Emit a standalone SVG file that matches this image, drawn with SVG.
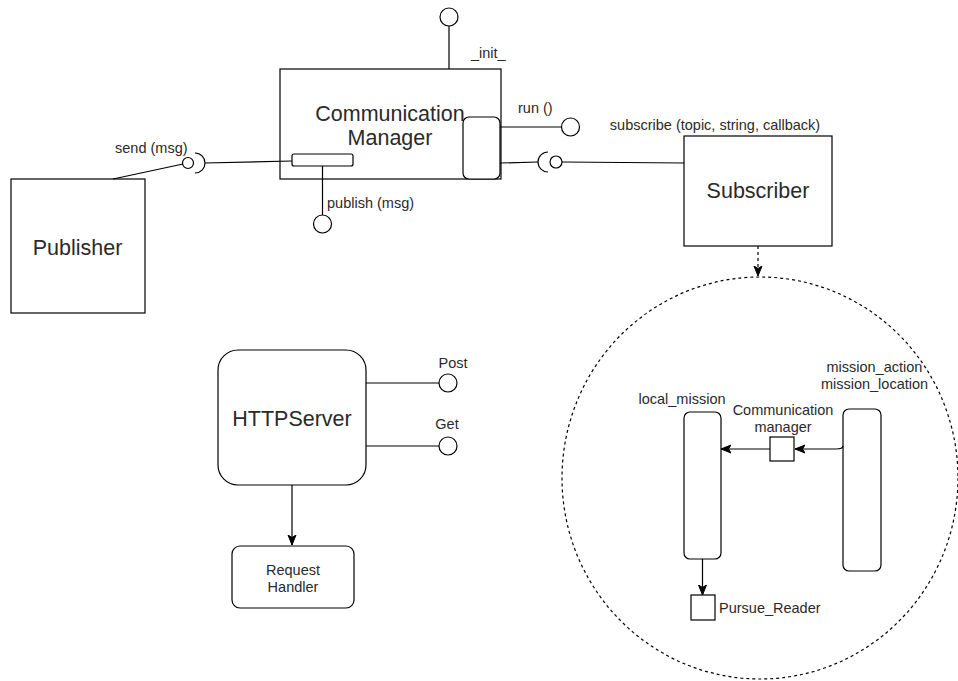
<svg xmlns="http://www.w3.org/2000/svg" width="958" height="681" viewBox="0 0 958 681">
<style>
.s{fill:#fff;stroke:#000;stroke-width:1.2}
.n{fill:none;stroke:#000;stroke-width:1.2}
.d{fill:none;stroke:#000;stroke-width:1.2;stroke-dasharray:3 3}
.t{font-family:"Liberation Sans",Arial,sans-serif;font-size:14.5px;fill:#2a2a2a}
.b{font-family:"Liberation Sans",Arial,sans-serif;font-size:21.5px;fill:#2a2a2a}
.m{text-anchor:middle}
</style>
<defs>
<marker id="ah" viewBox="0 0 10 10" refX="10" refY="5" markerWidth="10" markerHeight="10" markerUnits="userSpaceOnUse" orient="auto">
<path d="M0,1 L10,5 L0,9 L2.5,5 Z" fill="#000" stroke="#000" stroke-width="1"/>
</marker>
</defs>
<rect width="958" height="681" fill="#fff"/>
<g id="init-port">
<circle class="s" cx="449" cy="17" r="9"/>
<text class="t" x="471" y="58">_init_</text>
</g>
<g id="communication-manager">
<rect class="s" x="280" y="69" width="221" height="110"/>
<text class="b m" x="390" y="120.5">Communication</text>
<text class="b m" x="390" y="144.5">Manager</text>
<rect class="s" x="463" y="117" width="37" height="62" rx="6"/>
</g>
<g id="run-port">
<circle class="s" cx="570.5" cy="127" r="9"/>
<text class="t" x="518" y="113">run ()</text>
</g>
<g id="publish-port">
<circle class="s" cx="322.5" cy="224" r="9"/>
<text class="t" x="327" y="208">publish (msg)</text>
</g>
<g id="send-port">
<circle class="s" cx="188" cy="163" r="5.5"/>
<path class="n" d="M195,153 A10,10 0 0 1 195,173"/>
<text class="t" x="115" y="153">send (msg)</text>
</g>
<g id="subscribe-port">
<circle class="s" cx="556" cy="162" r="6"/>
<path class="n" d="M548,152 A10,10 0 0 0 548,172"/>
<text class="t m" x="715" y="130">subscribe (topic, string, callback)</text>
</g>
<g id="publisher">
<rect class="s" x="11" y="179" width="134" height="134"/>
<text class="b m" x="77.5" y="254.5">Publisher</text>
</g>
<g id="subscriber">
<rect class="s" x="684" y="136" width="148" height="110"/>
<text class="b m" x="758" y="197.5">Subscriber</text>
</g>
<g id="httpserver">
<rect class="s" x="218" y="350" width="148" height="135" rx="20"/>
<text class="b m" x="292" y="425.5">HTTPServer</text>
</g>
<g id="post-port">
<circle class="s" cx="448" cy="383" r="9"/>
<text class="t m" x="453" y="368">Post</text>
</g>
<g id="get-port">
<circle class="s" cx="448" cy="446" r="9"/>
<text class="t m" x="447" y="429">Get</text>
</g>
<g id="request-handler">
<rect class="s" x="232" y="546" width="122" height="62" rx="8"/>
<text class="t m" x="293" y="575">Request</text>
<text class="t m" x="293" y="592">Handler</text>
</g>
<g id="subscriber-detail">
<ellipse class="d" cx="760" cy="478" rx="198" ry="201"/>
</g>
<g id="local-mission">
<rect class="s" x="684" y="412" width="37" height="147" rx="6"/>
<text class="t m" x="682" y="404">local_mission</text>
</g>
<g id="mission-source">
<rect class="s" x="843" y="409" width="38" height="162" rx="6"/>
<text class="t m" x="874.5" y="372">mission_action</text>
<text class="t m" x="874.5" y="389">mission_location</text>
</g>
<g id="communication-manager-small">
<rect class="s" x="770" y="437" width="24" height="24"/>
<text class="t m" x="783" y="415">Communication</text>
<text class="t m" x="783" y="432">manager</text>
</g>
<g id="pursue-reader">
<rect class="s" x="691" y="595" width="24" height="25"/>
<text class="t" x="719" y="613">Pursue_Reader</text>
</g>
<g id="connectors">
<line class="n" x1="449" y1="26" x2="449" y2="69"/>
<line class="n" x1="500" y1="127" x2="561" y2="127"/>
<line class="n" x1="500" y1="163" x2="538" y2="162"/>
<line class="n" x1="562" y1="162" x2="684" y2="163"/>
<line class="n" x1="113" y1="179" x2="183" y2="164"/>
<line class="n" x1="205" y1="163" x2="292" y2="161"/>
<line class="n" x1="322.5" y1="166" x2="322.5" y2="215"/>
<line class="n" x1="366" y1="383" x2="439" y2="383"/>
<line class="n" x1="366" y1="446" x2="439" y2="446"/>
<line class="n" x1="292" y1="485" x2="292" y2="545" marker-end="url(#ah)"/>
<line class="d" x1="758" y1="246" x2="758" y2="276" marker-end="url(#ah)"/>
<path class="n" d="M843,446 Q843,449 836,449 L795,449" marker-end="url(#ah)"/>
<line class="n" x1="770" y1="449" x2="721" y2="449" marker-end="url(#ah)"/>
<line class="n" x1="702.5" y1="559" x2="702.5" y2="595" marker-end="url(#ah)"/>
</g>
<g id="publish-bar">
<rect class="s" x="292" y="154" width="61" height="12" rx="2"/>
</g>
</svg>
